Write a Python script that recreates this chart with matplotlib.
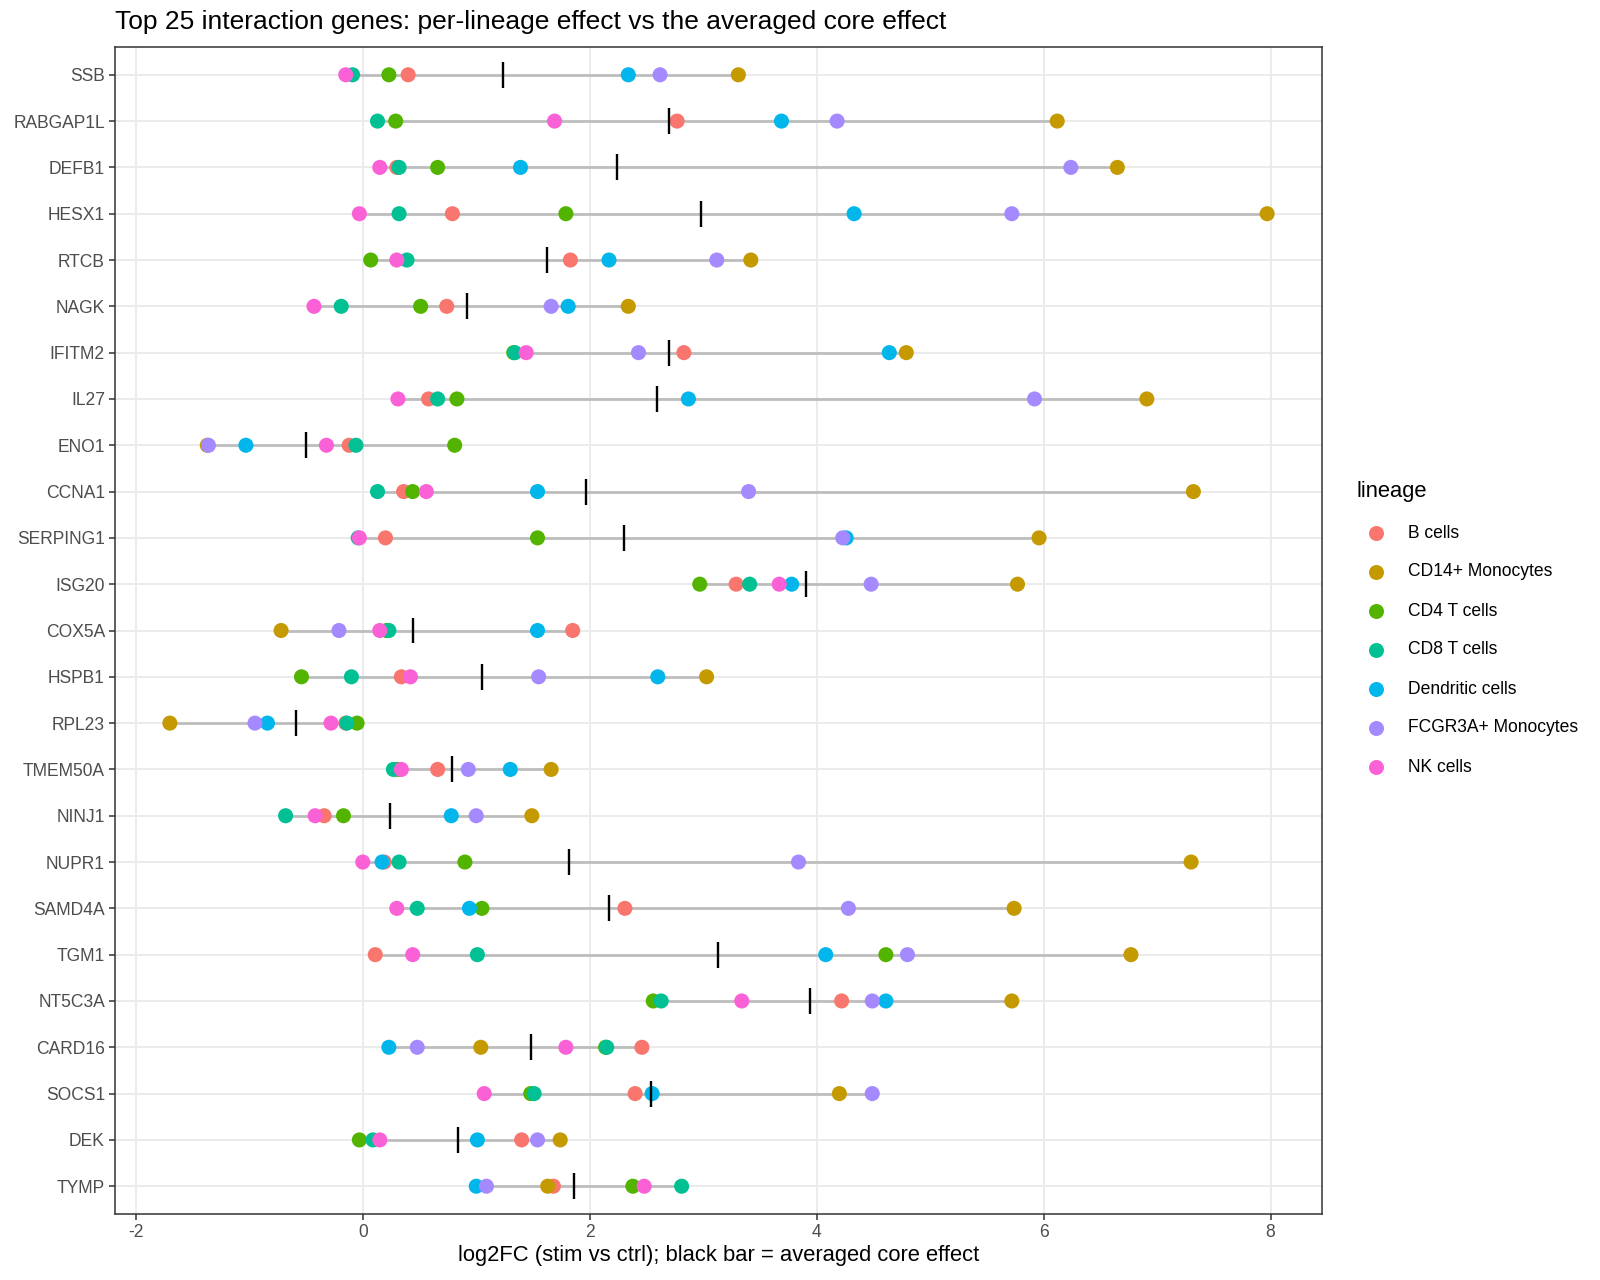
import numpy as np
import matplotlib
matplotlib.use('Agg')
import matplotlib.pyplot as plt
from matplotlib.lines import Line2D

# genes, top to bottom
genes = ['SSB', 'RABGAP1L', 'DEFB1', 'HESX1', 'RTCB', 'NAGK', 'IFITM2', 'IL27', 'ENO1',
         'CCNA1', 'SERPING1', 'ISG20', 'COX5A', 'HSPB1', 'RPL23', 'TMEM50A', 'NINJ1',
         'NUPR1', 'SAMD4A', 'TGM1', 'NT5C3A', 'CARD16', 'SOCS1', 'DEK', 'TYMP']

lineages = ['B cells', 'CD14+ Monocytes', 'CD4 T cells', 'CD8 T cells',
            'Dendritic cells', 'FCGR3A+ Monocytes', 'NK cells']

b_cells   = [0.40, 2.77, 0.30, 0.79, 1.83, 0.74, 2.83, 0.58, -0.12, 0.36, 0.20, 3.29, 1.85,
             0.34, -0.15, 0.66, -0.34, 0.19, 2.31, 0.11, 4.22, 2.46, 2.40, 1.40, 1.68]
cd14_mono = [3.31, 6.12, 6.65, 7.97, 3.42, 2.34, 4.79, 6.91, -1.37, 7.32, 5.96, 5.77, -0.72,
             3.03, -1.70, 1.66, 1.49, 7.30, 5.74, 6.77, 5.72, 1.04, 4.20, 1.74, 1.63]
cd4_t     = [0.23, 0.29, 0.66, 1.79, 0.07, 0.51, 1.33, 0.83, 0.81, 0.44, 1.54, 2.97, 0.21,
             -0.54, -0.05, 0.31, -0.17, 0.90, 1.05, 4.61, 2.56, 2.14, 1.48, -0.03, 2.38]
cd8_t     = [-0.09, 0.13, 0.32, 0.32, 0.39, -0.19, 1.34, 0.66, -0.06, 0.13, -0.04, 3.41, 0.23,
             -0.10, -0.14, 0.27, -0.68, 0.32, 0.48, 1.01, 2.63, 2.15, 1.51, 0.09, 2.81]
dendritic = [2.34, 3.69, 1.39, 4.33, 2.17, 1.81, 4.64, 2.87, -1.03, 1.54, 4.26, 3.78, 1.54,
             2.60, -0.84, 1.30, 0.78, 0.17, 0.94, 4.08, 4.61, 0.23, 2.55, 1.01, 1.00]
fcgr3a    = [2.62, 4.18, 6.24, 5.72, 3.12, 1.66, 2.43, 5.92, -1.36, 3.40, 4.23, 4.48, -0.21,
             1.55, -0.95, 0.93, 1.00, 3.84, 4.28, 4.80, 4.49, 0.48, 4.49, 1.54, 1.09]
nk_cells  = [-0.15, 1.69, 0.15, -0.03, 0.30, -0.43, 1.44, 0.31, -0.32, 0.56, -0.03, 3.67, 0.15,
             0.42, -0.28, 0.34, -0.42, 0.00, 0.30, 0.44, 3.34, 1.79, 1.07, 0.15, 2.48]

core_effect = [1.24, 2.70, 2.24, 2.98, 1.62, 0.92, 2.70, 2.59, -0.50, 1.97, 2.30, 3.91, 0.44,
               1.05, -0.59, 0.79, 0.24, 1.82, 2.17, 3.13, 3.94, 1.48, 2.54, 0.84, 1.86]

colors = ['#F8766D', '#C49A00', '#53B400', '#00C094', '#00B6EB', '#A58AFF', '#FB61D7']

series = [b_cells, cd14_mono, cd4_t, cd8_t, dendritic, fcgr3a, nk_cells]
vals = np.array(series)

plt.rcParams['font.family'] = ['Liberation Sans', 'DejaVu Sans']

base_size = 15.8
W, H = 1600, 1280

fig = plt.figure(figsize=(16, 12.8), dpi=100)
ax = fig.add_axes([115/W, 1 - 1214/H, (1322 - 115)/W, (1214 - 47)/H])

ypos = np.arange(len(genes))[::-1]

# grey range segment
ax.hlines(ypos, vals.min(axis=0), vals.max(axis=0), color='#BDBDBD', lw=2.0, zorder=2)

for vv, col, lab in zip(series, colors, lineages):
  ax.scatter(vv, ypos, s=118, color=col, edgecolors='none', zorder=3, label=lab)

# averaged core effect
ax.vlines(core_effect, ypos - 0.28, ypos + 0.28, color='black', lw=1.7, zorder=4)

xmin, xmax = vals.min(), vals.max()
pad = 0.05 * (xmax - xmin)
ax.set_xlim(xmin - pad, xmax + pad)
ax.set_ylim(-0.6, len(genes) - 0.4)

ax.set_xticks([-2, 0, 2, 4, 6, 8])
ax.set_xticklabels(['-2', '0', '2', '4', '6', '8'])
ax.set_yticks(ypos)
ax.set_yticklabels(genes)

ax.grid(True, color='#EBEBEB', lw=1.4, zorder=0)
ax.set_axisbelow(True)
for sp in ax.spines.values():
  sp.set_color('#333333')
  sp.set_linewidth(1.1)

ax.tick_params(axis='both', which='major', labelsize=base_size*0.8, labelcolor='#4D4D4D',
               color='#333333', length=4, width=1.1, direction='out', pad=3.2)

ax.set_xlabel('log2FC (stim vs ctrl); black bar = averaged core effect', fontsize=base_size,
              color='black', labelpad=3)

fig.text(115/W, 1 - 22/H, 'Top 25 interaction genes: per-lineage effect vs the averaged core effect',
         fontsize=base_size*1.2, color='black', ha='left', va='center')

# legend
fig.text(1357/W, 1 - 492/H, 'lineage', fontsize=base_size, ha='left', va='center')
for i, (col, lab) in enumerate(zip(colors, lineages)):
  yy = 1 - (533 + i * 39)/H
  fig.add_artist(Line2D([1376/W], [yy], marker='o', markersize=10.8, color=col,
                        markeredgecolor='none', linestyle='none', transform=fig.transFigure))
  fig.text(1408/W, yy, lab, fontsize=base_size*0.8, ha='left', va='center')

fig.savefig('out.png', dpi=100)
